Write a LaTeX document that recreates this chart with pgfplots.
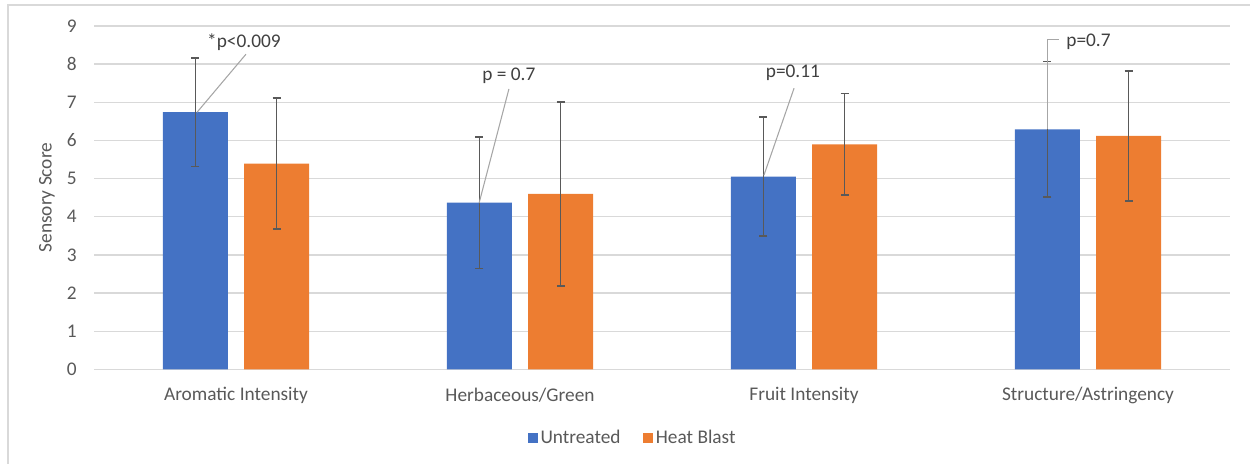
\documentclass[border=0pt]{standalone}
\usepackage{pgfplots}
\pgfplotsset{compat=1.18}
\usepackage{fontspec}
\setmainfont{Carlito}
\definecolor{blueU}{HTML}{4472C4}
\definecolor{orangeH}{HTML}{ED7D31}
\definecolor{errc}{HTML}{595959}
\definecolor{txt}{HTML}{595959}
\definecolor{anno}{HTML}{404040}
\definecolor{gridc}{HTML}{D9D9D9}
\definecolor{linec}{HTML}{A6A6A6}
\newcommand{\fs}{\fontsize{14.5}{17}\selectfont}
\begin{document}
\begin{tikzpicture}[x=0.75pt,y=0.75pt]
\path[use as bounding box] (0,0) rectangle (1250,464);
\draw[gridc, line width=1.5pt] (8,0) -- (8,459) -- (1250,459);
\node[rotate=90, text=txt, font=\fs] at (47,266.5) {Sensory Score};
\begin{axis}[
  at={(70.5pt,71.0pt)}, anchor=south west,
  width=852pt, height=257.5pt, scale only axis,
  xmin=-0.5, xmax=3.5, ymin=0, ymax=9,
  ytick={0,1,...,9}, xtick={0,1,2,3},
  xticklabels={Aromatic Intensity, Herbaceous/Green, Fruit Intensity, Structure/Astringency},
  axis line style={draw=none}, major tick length=0,
  ymajorgrids, grid style={gridc, line width=1pt},
  /pgf/number format/assume math mode=true,
  tick label style={text=txt, font=\fs},
  yticklabel style={xshift=-9.5pt},
  xticklabel style={anchor=center, yshift=-19.5pt},
  ybar, bar width=0.229,
  clip=false,
  legend style={at={(0.4745,-0.200)}, anchor=center, draw=none, fill=none,
    legend columns=2, font=\fs, text=txt,
    /tikz/every even column/.append style={column sep=15pt}},
  legend image code/.code={\fill[#1,draw=none] (0pt,-3.75pt) rectangle (7.5pt,3.75pt);},
  error bars/y dir=both, error bars/y explicit,
  error bars/error bar style={errc, line width=1.3pt},
  error bars/error mark options={errc, line width=1.3pt, mark size=3pt, rotate=90},
]
\addplot[fill=blueU, draw=none, bar shift=-0.143] coordinates {
  (0,6.74) +- (0,1.42)
  (1,4.37) +- (0,1.73)
  (2,5.05) +- (0,1.56)
  (3,6.29) +- (0,1.78)
};
\addplot[fill=orangeH, draw=none, bar shift=0.143] coordinates {
  (0,5.39) +- (0,1.72)
  (1,4.60) +- (0,2.41)
  (2,5.90) +- (0,1.33)
  (3,6.12) +- (0,1.70)
};
\legend{Untreated, Heat Blast}
\draw[linec, line width=0.8pt] (axis cs:-0.137,6.74) -- (axis cs:0.035,8.26);
\node[text=anno, font=\fs] at (axis cs:0.028,8.57) {*p<0.009};
\draw[linec, line width=0.8pt] (axis cs:0.856,4.36) -- (axis cs:0.961,7.35);
\node[text=anno, font=\fs] at (axis cs:0.961,7.69) {p = 0.7};
\draw[linec, line width=0.8pt] (axis cs:1.859,5.09) -- (axis cs:1.965,7.37);
\node[text=anno, font=\fs] at (axis cs:1.961,7.77) {p=0.11};
\draw[linec, line width=0.8pt] (axis cs:2.856,6.29) -- (axis cs:2.856,8.65) -- (axis cs:2.898,8.65);
\node[text=anno, font=\fs, anchor=west, inner sep=0pt] at (axis cs:2.923,8.58) {p=0.7};
\end{axis}
\end{tikzpicture}
\end{document}
